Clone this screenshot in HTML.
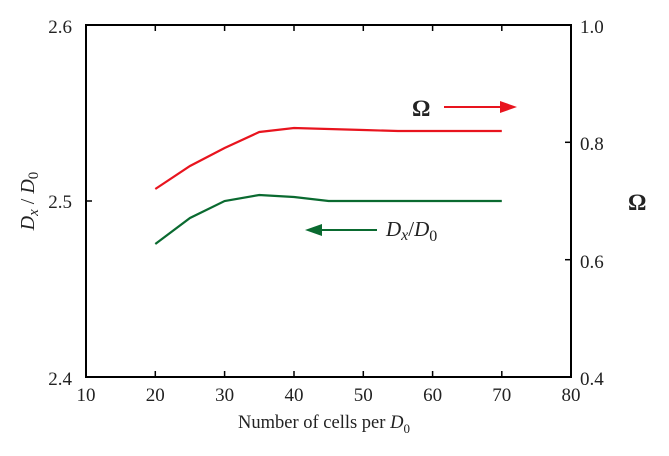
<!DOCTYPE html><html><head><style>body{margin:0;background:#fff}</style></head><body>
<svg width="669" height="451" xmlns="http://www.w3.org/2000/svg" font-family="Liberation Serif, serif">
<rect x="86" y="25" width="485" height="352" fill="none" stroke="#000" stroke-width="2"/>
<g stroke="#000" stroke-width="1.5">
<line x1="155.3" y1="25" x2="155.3" y2="31"/><line x1="224.6" y1="25" x2="224.6" y2="31"/><line x1="294" y1="25" x2="294" y2="31"/><line x1="363.3" y1="25" x2="363.3" y2="31"/><line x1="432.6" y1="25" x2="432.6" y2="31"/><line x1="501.8" y1="25" x2="501.8" y2="31"/>
<line x1="155.3" y1="377" x2="155.3" y2="371"/><line x1="224.6" y1="377" x2="224.6" y2="371"/><line x1="294" y1="377" x2="294" y2="371"/><line x1="363.3" y1="377" x2="363.3" y2="371"/><line x1="432.6" y1="377" x2="432.6" y2="371"/><line x1="501.8" y1="377" x2="501.8" y2="371"/>
<line x1="571" y1="142.3" x2="565" y2="142.3"/><line x1="571" y1="259.7" x2="565" y2="259.7"/>
<line x1="86" y1="201" x2="92" y2="201"/>
</g>
<g font-size="19" fill="#222" text-anchor="middle">
<text x="86" y="401">10</text><text x="155.3" y="401">20</text><text x="224.6" y="401">30</text><text x="294" y="401">40</text><text x="363.3" y="401">50</text><text x="432.6" y="401">60</text><text x="501.8" y="401">70</text><text x="571" y="401">80</text>
</g>
<g font-size="19" fill="#222" text-anchor="end">
<text x="72" y="33">2.6</text><text x="72" y="208">2.5</text><text x="72" y="385">2.4</text>
</g>
<g font-size="19" fill="#222">
<text x="580" y="33">1.0</text><text x="580" y="150">0.8</text><text x="580" y="268">0.6</text><text x="580" y="385">0.4</text>
</g>
<text x="238" y="428" font-size="18.5" fill="#222">Number of cells per <tspan font-style="italic">D</tspan><tspan font-size="13" dy="5">0</tspan></text>
<text transform="translate(34,201) rotate(-90)" text-anchor="middle" font-size="20" fill="#222"><tspan font-style="italic">D</tspan><tspan font-style="italic" font-size="15" dy="4">x</tspan><tspan dy="-4"> / </tspan><tspan font-style="italic">D</tspan><tspan font-size="15" dy="4">0</tspan></text>
<text x="628" y="210" font-size="23" font-weight="bold" fill="#222">Ω</text>
<polyline fill="none" stroke="#e8141e" stroke-width="2.2" points="155.3,189 190,166 224.6,148 259.3,132 294,128 363.3,130 398,131 501.8,131"/>
<polyline fill="none" stroke="#0a6a30" stroke-width="2.2" points="155.3,244 190,218 224.6,201 259.3,195 294,197 328.6,201 501.8,201"/>
<text x="412" y="116" font-size="23" font-weight="bold" fill="#222">Ω</text>
<line x1="444" y1="107" x2="502" y2="107" stroke="#e8141e" stroke-width="2"/>
<polygon points="500,101 517,107 500,113" fill="#e8141e"/>
<line x1="320" y1="230" x2="377" y2="230" stroke="#0a6a30" stroke-width="2"/>
<polygon points="322,224 305,230 322,236" fill="#0a6a30"/>
<text x="386" y="236" font-size="21" fill="#222"><tspan font-style="italic">D</tspan><tspan font-style="italic" font-size="16" dy="4">x</tspan><tspan dy="-4">/</tspan><tspan font-style="italic">D</tspan><tspan font-size="16" dy="5">0</tspan></text>
</svg></body></html>
